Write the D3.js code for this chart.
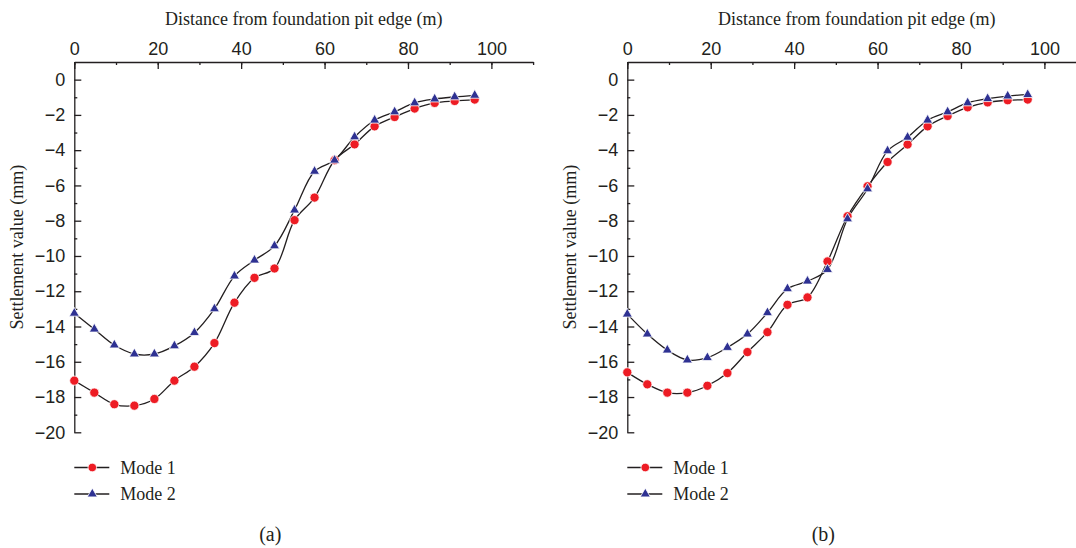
<!DOCTYPE html>
<html>
<head>
<meta charset="utf-8">
<script src="https://cdn.jsdelivr.net/npm/d3@7"></script>
<style>
    body { margin: 0; background: #fff; }
    svg { display: block; font-family: "Liberation Serif", "DejaVu Serif", serif; }
</style>
</head>
<body>
<svg id="chart" width="1076" height="548"></svg>
<script>
// distances along the section (m)
const distance = [0, 4.8, 9.6, 14.4, 19.2, 24, 28.8, 33.6, 38.4, 43.2, 48,
    52.8, 57.6, 62.4, 67.2, 72, 76.8, 81.6, 86.4, 91.2, 96];

// panel (a)
const aMode1 = [-17.07, -17.75, -18.41, -18.49, -18.11, -17.07, -16.28, -14.94, -12.65, -11.24, -10.71,
    -7.97, -6.69, -4.57, -3.67, -2.65, -2.12, -1.64, -1.32, -1.21, -1.13];
const aMode2 = [-13.25, -14.15, -15.05, -15.56, -15.56, -15.1, -14.35, -13.0, -11.14, -10.24, -9.43,
    -7.4, -5.2, -4.57, -3.25, -2.3, -1.83, -1.32, -1.1, -0.98, -0.89];

// panel (b)
const bMode1 = [-16.6, -17.28, -17.75, -17.75, -17.36, -16.64, -15.45, -14.32, -12.77, -12.35, -10.31,
    -7.75, -6.05, -4.67, -3.68, -2.65, -2.06, -1.57, -1.29, -1.17, -1.13];
const bMode2 = [-13.3, -14.43, -15.34, -15.9, -15.77, -15.19, -14.43, -13.22, -11.86, -11.43, -10.77,
    -7.9, -6.2, -4.04, -3.27, -2.3, -1.83, -1.32, -1.08, -0.93, -0.85];

const xTicks = [0, 20, 40, 60, 80, 100];
const yTicks = [0, -2, -4, -6, -8, -10, -12, -14, -16, -18, -20];
const seriesNames = ["Mode 1", "Mode 2"];

const svg = d3.select("#chart");
const red = "#ed1c24";
const navy = "#2e3192";
const ink = "#231f20";
const fontSize = 18;

const triangle = d3.symbol().type(d3.symbolTriangle).size(44);

function drawPanel(left, m1, m2, caption) {
    const x = d3.scaleLinear().domain([0, 110]).range([left, left + 458.8]);
    const y = d3.scaleLinear().domain([1, -20]).range([62, 432.3]);
    const g = svg.append("g");

    // top axis, ticks inward
    g.append("g")
        .attr("transform", `translate(0,${y(1)})`)
        .call(d3.axisTop(x).tickValues(d3.range(0, 111, 10)).tickSize(-3).tickSizeOuter(0).tickFormat(""))
        .call(a => a.select(".domain").remove());
    g.append("g")
        .attr("class", "ax")
        .attr("transform", `translate(0,${y(1)})`)
        .call(d3.axisTop(x).tickValues(xTicks).tickSize(-7).tickSizeOuter(0).tickPadding(7));

    // left axis
    g.append("g")
        .attr("transform", `translate(${left},0)`)
        .call(d3.axisLeft(y).tickValues(d3.range(-19, 1, 2)).tickSize(-3).tickSizeOuter(0).tickFormat(""))
        .call(a => a.select(".domain").remove());
    g.append("g")
        .attr("class", "ax")
        .attr("transform", `translate(${left},0)`)
        .call(d3.axisLeft(y).tickValues(yTicks).tickSize(-7).tickSizeOuter(0).tickPadding(9));

    g.selectAll(".domain, .tick line").attr("stroke", ink).attr("stroke-width", 1.3);
    g.selectAll(".ax text").attr("font-size", fontSize).attr("font-family", null).attr("fill", ink);

    // axis titles
    g.append("text")
        .attr("x", x(55))
        .attr("y", 25)
        .attr("text-anchor", "middle")
        .attr("font-size", fontSize)
        .attr("fill", ink)
        .text("Distance from foundation pit edge (m)");
    g.append("text")
        .attr("transform", `translate(${left - 51},${y(-9.5)}) rotate(-90)`)
        .attr("text-anchor", "middle")
        .attr("font-size", fontSize)
        .attr("fill", ink)
        .text("Settlement value (mm)");

    const line = d3.line()
        .x((d, i) => x(distance[i]))
        .y(d => y(d))
        .curve(d3.curveCatmullRom.alpha(0.5));

    [m1, m2].forEach(s => {
        g.append("path")
            .attr("d", line(s))
            .attr("fill", "none")
            .attr("stroke", ink)
            .attr("stroke-width", 1.3);
    });

    g.append("g")
        .selectAll("circle")
        .data(m1)
        .join("circle")
        .attr("cx", (d, i) => x(distance[i]))
        .attr("cy", d => y(d))
        .attr("r", 4.6)
        .attr("fill", red)
        .attr("stroke", "#fff")
        .attr("stroke-width", 0.8);

    g.append("g")
        .selectAll("path")
        .data(m2)
        .join("path")
        .attr("transform", (d, i) => `translate(${x(distance[i])},${y(d)})`)
        .attr("d", triangle)
        .attr("fill", navy)
        .attr("stroke", "#fff")
        .attr("stroke-width", 0.8);

    // legend
    const lg = g.append("g").attr("transform", `translate(${left},0)`);
    seriesNames.forEach((name, i) => {
        const ly = 467.5 + i * 26.5;
        lg.append("line")
            .attr("x1", 0).attr("x2", 35)
            .attr("y1", ly).attr("y2", ly)
            .attr("stroke", ink).attr("stroke-width", 1.3);
        if (i === 0) {
            lg.append("circle").attr("cx", 18).attr("cy", ly).attr("r", 4.3)
                .attr("fill", red).attr("stroke", "#fff").attr("stroke-width", 0.8);
        } else {
            lg.append("path").attr("transform", `translate(18,${ly})`).attr("d", triangle)
                .attr("fill", navy).attr("stroke", "#fff").attr("stroke-width", 0.8);
        }
        lg.append("text")
            .attr("x", 46)
            .attr("y", ly + 6)
            .attr("font-size", fontSize)
            .attr("fill", ink)
            .text(name);
    });

    g.append("text")
        .attr("x", left + 196)
        .attr("y", 541)
        .attr("text-anchor", "middle")
        .attr("font-size", 20)
        .attr("fill", ink)
        .text(caption);
}

drawPanel(74.3, aMode1, aMode2, "(a)");
drawPanel(627.3, bMode1, bMode2, "(b)");
</script>
</body>
</html>
